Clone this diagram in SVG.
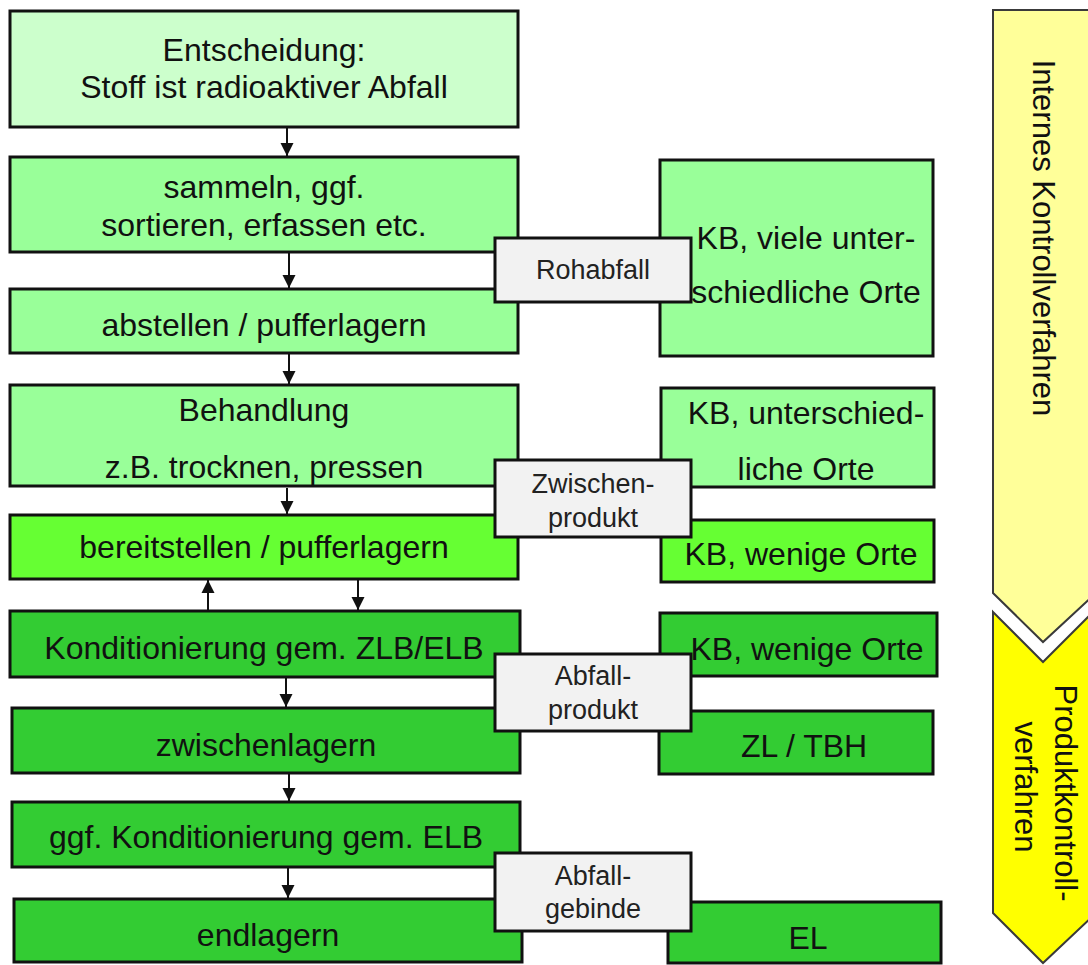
<svg xmlns="http://www.w3.org/2000/svg" width="1088" height="965" viewBox="0 0 1088 965">
<style>
.b{stroke:#111;stroke-width:3}
.l1{fill:#ccffcc}.l2{fill:#99ff99}.l3{fill:#66ff33}.l4{fill:#33cc33}
.g{fill:#f2f2f2;stroke:#111;stroke-width:3}
.t{font-family:"Liberation Sans",Arial,sans-serif;font-size:32px;fill:#111;text-anchor:middle}
.v{font-family:"Liberation Sans",Arial,sans-serif;font-size:31px;fill:#111;text-anchor:middle}
.s{font-family:"Liberation Sans",Arial,sans-serif;font-size:27px;fill:#222;text-anchor:middle}
.c{stroke:#111;stroke-width:2;fill:none;marker-end:url(#ah)}
.ch{stroke:#3a3a3a;stroke-width:2}
</style>
<defs>
<marker id="ah" markerUnits="userSpaceOnUse" markerWidth="14" markerHeight="14" viewBox="0 0 14 14" refX="13" refY="7" orient="auto">
<path d="M0,0.5 L13,7 L0,13.5 Z" fill="#111"/>
</marker>
</defs>
<rect width="1088" height="965" fill="#fff"/>

<g id="side-internes">
<path class="ch" d="M993,10 H1096 V593 L1043,642 L993,593 Z" fill="#ffff99"/>
<text class="v" transform="translate(1033,238) rotate(90)">Internes Kontrollverfahren</text>
</g>
<g id="side-produkt">
<path class="ch" d="M993,612 L1043,662 L1096,609 V913 L1043,963 L993,913 Z" fill="#ffff00"/>
<text class="v" transform="translate(1055,793) rotate(90)">Produktkontroll-</text>
<text class="v" transform="translate(1015,787) rotate(90)">verfahren</text>
</g>

<g id="connectors">
<line class="c" x1="287" y1="128" x2="287" y2="156"/>
<line class="c" x1="289" y1="253" x2="289" y2="288"/>
<line class="c" x1="289" y1="354" x2="289" y2="384"/>
<line class="c" x1="287" y1="488" x2="287" y2="514"/>
<line class="c" x1="208" y1="610" x2="208" y2="580"/>
<line class="c" x1="358" y1="580" x2="358" y2="610"/>
<line class="c" x1="286" y1="678" x2="286" y2="707"/>
<line class="c" x1="289" y1="774" x2="289" y2="801"/>
<line class="c" x1="288" y1="868" x2="288" y2="898"/>
</g>

<g id="n1"><rect class="b l1" x="10" y="11" width="508" height="116"/>
<text class="t" x="264" y="61">Entscheidung:</text>
<text class="t" x="264" y="98">Stoff ist radioaktiver Abfall</text></g>
<g id="n2"><rect class="b l2" x="10" y="157" width="508" height="95"/>
<text class="t" x="264" y="198">sammeln, ggf.</text>
<text class="t" x="264" y="236">sortieren,  erfassen etc.</text></g>
<g id="n3"><rect class="b l2" x="10" y="289" width="508" height="64"/>
<text class="t" x="264" y="336">abstellen / pufferlagern</text></g>
<g id="n4"><rect class="b l2" x="10" y="385" width="508" height="101"/>
<text class="t" x="264" y="421">Behandlung</text>
<text class="t" x="264" y="478">z.B. trocknen, pressen</text></g>
<g id="n5"><rect class="b l3" x="10" y="515" width="508" height="64"/>
<text class="t" x="264" y="558">bereitstellen / pufferlagern</text></g>
<g id="n6"><rect class="b l4" x="10" y="611" width="510" height="66"/>
<text class="t" x="264" y="659">Konditionierung gem. ZLB/ELB</text></g>
<g id="n7"><rect class="b l4" x="12" y="708" width="508" height="65"/>
<text class="t" x="266" y="756">zwischenlagern</text></g>
<g id="n8"><rect class="b l4" x="12" y="802" width="508" height="65"/>
<text class="t" x="266" y="848">ggf. Konditionierung gem. ELB</text></g>
<g id="n9"><rect class="b l4" x="14" y="899" width="508" height="63"/>
<text class="t" x="268" y="946">endlagern</text></g>

<g id="r1"><rect class="b l2" x="660" y="160" width="273" height="196"/>
<text class="t" x="806" y="249">KB, viele unter-</text>
<text class="t" x="806" y="303">schiedliche Orte</text></g>
<g id="r2"><rect class="b l2" x="661" y="388" width="273" height="99"/>
<text class="t" x="806" y="424">KB, unterschied-</text>
<text class="t" x="806" y="480">liche Orte</text></g>
<g id="r3"><rect class="b l3" x="661" y="520" width="273" height="62"/>
<text class="t" x="801" y="565">KB, wenige Orte</text></g>
<g id="r4"><rect class="b l4" x="660" y="613" width="277" height="63"/>
<text class="t" x="807" y="660">KB, wenige Orte</text></g>
<g id="r5"><rect class="b l4" x="659" y="711" width="274" height="63"/>
<text class="t" x="804" y="757">ZL / TBH</text></g>
<g id="r6"><rect class="b l4" x="668" y="902" width="273" height="61"/>
<text class="t" x="808" y="949">EL</text></g>

<g id="m1"><rect class="g" x="495" y="238" width="196" height="64"/>
<text class="s" x="593" y="279">Rohabfall</text></g>
<g id="m2"><rect class="g" x="495" y="460" width="196" height="77"/>
<text class="s" x="593" y="493">Zwischen-</text>
<text class="s" x="593" y="527">produkt</text></g>
<g id="m3"><rect class="g" x="495" y="654" width="196" height="77"/>
<text class="s" x="593" y="685">Abfall-</text>
<text class="s" x="593" y="719">produkt</text></g>
<g id="m4"><rect class="g" x="495" y="853" width="196" height="78"/>
<text class="s" x="593" y="885">Abfall-</text>
<text class="s" x="593" y="918">gebinde</text></g>
</svg>
